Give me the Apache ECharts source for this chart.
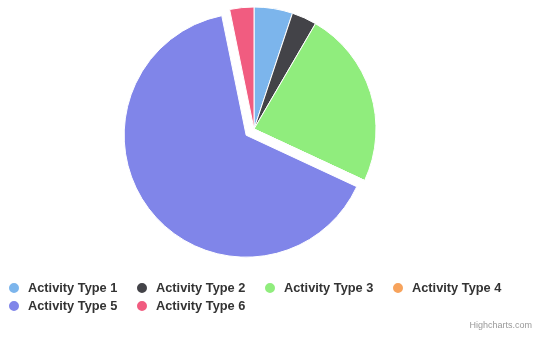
<!DOCTYPE html>
<html>
<head>
<meta charset="utf-8">
<script src="https://cdn.jsdelivr.net/npm/echarts@6/dist/echarts.min.js"></script>
<style>
  html, body { margin: 0; padding: 0; background: #fff; }
  #chart { width: 536px; height: 337px; }
</style>
</head>
<body>
<div id="chart"></div>
<script>
// Activity shares (percent of total)
const categories = ['Activity Type 1', 'Activity Type 2', 'Activity Type 3', 'Activity Type 4', 'Activity Type 5', 'Activity Type 6'];
const shares = [5.1, 3.3, 23.5, 0, 64.8, 3.2];
const palette = ['#7cb5ec', '#434348', '#90ed7d', '#f7a35c', '#8085e9', '#f15c80'];
const slicedName = 'Activity Type 5';

const chart = echarts.init(document.getElementById('chart'), null, { renderer: 'canvas' });

const pieData = categories.map((name, i) => ({
  name: name,
  value: shares[i],
  selected: name === slicedName,
  itemStyle: { color: palette[i] }
}));

chart.setOption({
  animation: false,
  backgroundColor: '#ffffff',
  legend: {
    left: 7,
    top: 281,
    width: 525,
    padding: 0,
    orient: 'horizontal',
    icon: 'circle',
    itemWidth: 12,
    itemHeight: 12,
    itemGap: 4,
    selectedMode: false,
    data: categories,
    textStyle: {
      fontFamily: '"Liberation Sans", Arial, sans-serif',
      fontSize: 12.8,
      fontWeight: 'bold',
      color: '#333333',
      width: 103,
      lineHeight: 12,
      padding: [0, 0, 0, 3]
    }
  },
  graphic: [{
    type: 'text',
    right: 4,
    top: 321,
    style: {
      text: 'Highcharts.com',
      fontFamily: '"Liberation Sans", Arial, sans-serif',
      fontSize: 9,
      fill: '#999999'
    }
  }],
  series: [{
    type: 'pie',
    center: [254, 129],
    radius: 122,
    startAngle: 90,
    clockwise: true,
    selectedMode: 'single',
    selectedOffset: 10,
    label: { show: false },
    labelLine: { show: false },
    emphasis: { disabled: true },
    itemStyle: { borderColor: '#ffffff', borderWidth: 1 },
    data: pieData
  }]
});
</script>
</body>
</html>
